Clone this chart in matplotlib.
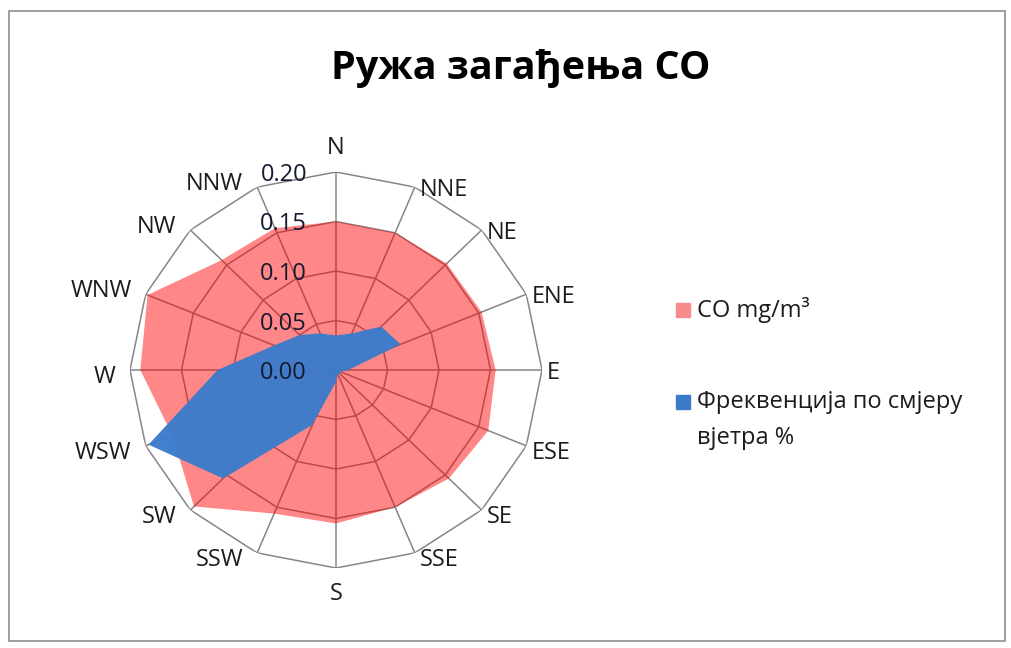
import numpy as np
import matplotlib
matplotlib.use("Agg")
import matplotlib.pyplot as plt
from matplotlib.patches import Rectangle

# ---- data ----
directions = ["N", "NNE", "NE", "ENE", "E", "ESE", "SE", "SSE",
              "S", "SSW", "SW", "WSW", "W", "WNW", "NW", "NNW"]
co_values = [0.150, 0.150, 0.152, 0.153, 0.155, 0.160, 0.155, 0.150,
             0.155, 0.157, 0.195, 0.172, 0.190, 0.198, 0.157, 0.155]
freq_values = [0.035, 0.040, 0.062, 0.068, 0.012, 0.005, 0.005, 0.005,
               0.012, 0.060, 0.155, 0.197, 0.115, 0.065, 0.050, 0.040]
radial_ticks = [0.00, 0.05, 0.10, 0.15, 0.20]
radial_labels = ["0.00", "0.05", "0.10", "0.15", "0.20"]
title = "Ружа загађења CO"
legend_labels = ["CO mg/m\u00b3", "Фреквенција по смјеру\nвјетра %"]

FONT = ["Open Sans", "Noto Sans", "DejaVu Sans"]
W, H = 1011, 648
fig = plt.figure(figsize=(W / 100, H / 100), dpi=100)
fig.patch.set_facecolor("white")

# chart border
fig.add_artist(Rectangle((9 / W, 1 - 641 / H), (1005 - 9) / W, (641 - 11) / H,
                         transform=fig.transFigure, fill=False,
                         edgecolor="#8c8c8c", lw=1.2))

cx, cy, rx, ry = 336, 370, 206, 198
ax = fig.add_axes([(cx - rx) / W, (H - cy - ry) / H, 2 * rx / W, 2 * ry / H],
                  projection="polar")
ax.set_aspect("auto")
ax.set_theta_zero_location("N")
ax.set_theta_direction(-1)
ax.set_ylim(0, radial_ticks[-1])
ax.grid(False)
ax.spines["polar"].set_visible(False)
ax.set_xticks([])
ax.set_yticks([])
ax.patch.set_alpha(0)

n = len(directions)
theta = np.arange(n) * 2 * np.pi / n
theta_c = np.append(theta, theta[0])

grid_col = "#868686"
for r in radial_ticks[1:]:
    ax.plot(theta_c, [r] * (n + 1), color=grid_col, lw=1.1, zorder=1)
for t in theta:
    ax.plot([t, t], [0, radial_ticks[-1]], color=grid_col, lw=1.1, zorder=1)

co_c = np.append(co_values, co_values[0])
fr_c = np.append(freq_values, freq_values[0])
ax.fill(theta_c, co_c, color="#ff0000", alpha=0.47, lw=0, zorder=2)
ax.fill(theta_c, fr_c, color="#3c7bcb", alpha=0.97, lw=0, zorder=3)

TXT = "#1c1c1c"
FS = 17
# radial tick labels
for v, lab in zip(radial_ticks, radial_labels):
    ax.annotate(lab, xy=(0, v), xytext=(-29, -3), textcoords="offset pixels",
                ha="right", va="center", fontsize=FS, family=FONT,
                color="#141a30", zorder=5)

# category labels
for t, lab in zip(theta, directions):
    s, c = np.sin(t), np.cos(t)
    if abs(s) < 0.1:
        ha = "center"
        if c > 0:
            off, va = (0, 12), "bottom"
        else:
            off, va = (0, -14), "top"
    elif s > 0:
        ha, va = "left", "center"
        off = (5, -3 if c >= 0 else -7)
    else:
        ha, va = "right", "center"
        off = (-14, 3 if c >= 0 else -7)
    ax.annotate(lab, xy=(t, radial_ticks[-1]), xytext=off,
                textcoords="offset pixels", ha=ha, va=va, fontsize=FS,
                family=FONT, color=TXT)

# title
fig.text(521 / W, 1 - 68 / H, title, ha="center", va="center",
         fontsize=28.5, fontweight="bold", family=FONT, color="black")

# legend (manual)
leg_colors = ["#f78a8a", "#3c7bcb"]
leg_y = [310, 402]
for col, yy in zip(leg_colors, leg_y):
    fig.add_artist(Rectangle((676 / W, 1 - (yy + 7) / H), 14 / W, 14 / H,
                             transform=fig.transFigure, color=col))
fig.text(697 / W, 1 - leg_y[0] / H, legend_labels[0], ha="left", va="center",
         fontsize=FS, family=FONT, color=TXT)
first, second = legend_labels[1].split("\n")
fig.text(697 / W, 1 - leg_y[1] / H, first, ha="left", va="center",
         fontsize=FS, family=FONT, color=TXT)
fig.text(697 / W, 1 - (leg_y[1] + 36) / H, second, ha="left", va="center",
         fontsize=FS, family=FONT, color=TXT)

fig.savefig("out.png", dpi=100)
